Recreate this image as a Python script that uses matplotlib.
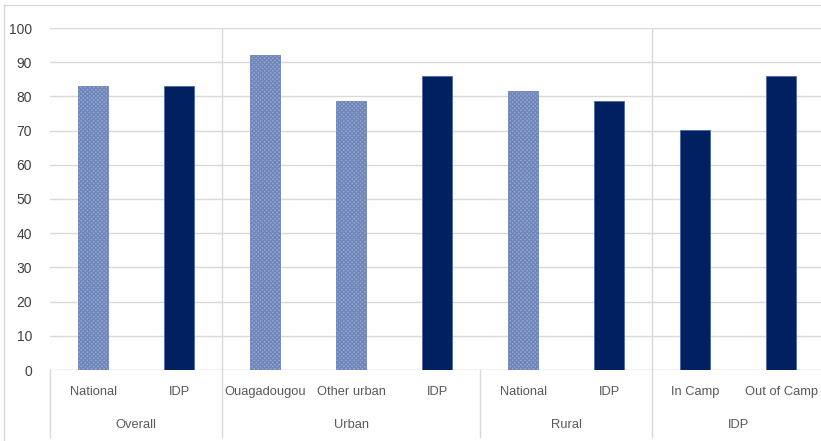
import matplotlib
matplotlib.use("Agg")
import matplotlib.pyplot as plt
import matplotlib.transforms as mtransforms
from matplotlib.lines import Line2D

categories = ["National", "IDP", "Ouagadougou", "Other urban", "IDP",
              "National", "IDP", "In Camp", "Out of Camp"]
values = [83.1, 82.9, 92.2, 78.7, 86.1, 81.7, 78.8, 70.2, 85.9]
hatched = [True, False, True, True, False, True, False, False, False]
groups = ["Overall", "Urban", "Rural", "IDP"]
group_spans = [(0, 1), (2, 4), (5, 6), (7, 8)]

navy = "#002060"
grid_c = "#d9d9d9"
text_c = "#595959"

plt.rcParams["font.family"] = ["Liberation Sans", "DejaVu Sans"]
plt.rcParams["hatch.color"] = navy
plt.rcParams["hatch.linewidth"] = 1.0

W, H = 821, 441
fig = plt.figure(figsize=(W / 100, H / 100), dpi=100)
x0, x1, y0, y1 = 50, 824, 370, 28
ax = fig.add_axes([x0 / W, 1 - y0 / H, (x1 - x0) / W, (y0 - y1) / H])

for i, (v, h) in enumerate(zip(values, hatched)):
    if h:
        ax.bar(i, v, width=0.34, color="#9aa9cf", hatch="xxxxxxxx",
               edgecolor="#6f86bb", linewidth=0.6, zorder=3)
    else:
        ax.bar(i, v, width=0.34, color=navy, edgecolor="#4a6aa8",
               linewidth=0.6, zorder=3)

ax.set_xlim(-0.5, len(categories) - 0.5)
ax.set_ylim(0, 100)
ax.set_yticks(range(0, 101, 10))
ax.grid(axis="y", color=grid_c, linewidth=1, zorder=0)
for s in ax.spines.values():
    s.set_visible(False)
ax.axhline(0, color=grid_c, linewidth=1, zorder=1)
for b in (1.5, 6.5):
    ax.axvline(b, color=grid_c, linewidth=1, zorder=1)
ax.tick_params(axis="y", length=0, labelsize=10, labelcolor="#404040", pad=13)
ax.set_xticks([])

# category labels and group labels below the axis
bt = mtransforms.blended_transform_factory(ax.transData, fig.transFigure)
for i, c in enumerate(categories):
    ax.text(i, 1 - 392 / H, c, transform=bt,
            ha="center", va="center", fontsize=9.3, color=text_c)
for g, (a, b) in zip(groups, group_spans):
    ax.text((a + b) / 2, 1 - 425 / H, g, transform=bt,
            ha="center", va="center", fontsize=9.3, color=text_c)
for b in (-0.5, 1.5, 4.5, 6.5):
    ax.add_line(Line2D([b, b], [1 - 370 / H, 1 - 437 / H], transform=bt,
                       color=grid_c, linewidth=1, clip_on=False))

# outer frame lines
fig.add_artist(Line2D([4 / W, 4 / W], [0, 1 - 5 / H], color=grid_c, linewidth=1))
fig.add_artist(Line2D([4 / W, 1], [1 - 5 / H, 1 - 5 / H], color=grid_c, linewidth=1))

fig.savefig("out.png", dpi=100)
